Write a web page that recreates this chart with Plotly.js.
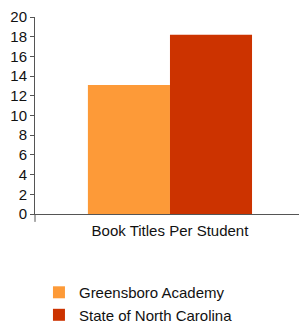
<!DOCTYPE html>
<html>
<head>
<meta charset="utf-8">
<script src="https://cdn.plot.ly/plotly-3.0.1.min.js"></script>
<style>html,body{margin:0;padding:0;background:#fff;}#chart{width:299px;height:324px;}</style>
</head>
<body>
<div id="chart"></div>
<script>
var categories = ["Book Titles Per Student"];
var seriesNames = ["Greensboro Academy", "State of North Carolina"];
var greensboro = [13.1];
var northCarolina = [18.2];
var yTicks = [0, 2, 4, 6, 8, 10, 12, 14, 16, 18, 20];

var font = {family: "Liberation Sans, Arial, sans-serif", size: 15, color: "#111"};
var traces = [
  {type: "bar", name: seriesNames[0], x: categories, y: greensboro, marker: {color: "#FD9A38"}},
  {type: "bar", name: seriesNames[1], x: categories, y: northCarolina, marker: {color: "#CC3300"}}
];
var layout = {
  width: 299, height: 324,
  margin: {l: 35, r: 0, t: 17, b: 110},
  paper_bgcolor: "#fff", plot_bgcolor: "#fff",
  font: font,
  barmode: "group", bargap: 0.364, bargroupgap: 0,
  showlegend: true,
  hovermode: false,
  xaxis: {
    type: "category", range: [-0.523, 0.5],
    showline: true, linecolor: "#555", linewidth: 1,
    ticks: "", showgrid: false, zeroline: false,
    tickfont: font, ticklabelstandoff: 3, automargin: false
  },
  yaxis: {
    range: [0, 20], tickvals: yTicks,
    showline: true, linecolor: "#555", linewidth: 1,
    ticks: "outside", ticklen: 4, tickcolor: "#555",
    showgrid: false, zeroline: false,
    tickfont: font, automargin: false
  },
  shapes: [{type: "line", xref: "paper", yref: "paper", x0: 0, x1: 0, y0: 0, y1: -0.04,
            line: {color: "#555", width: 1}}],
  legend: {
    orientation: "v", xref: "paper", yref: "container",
    x: 0.015, xanchor: "left", y: 0.148, yanchor: "top",
    font: font, traceorder: "normal", itemwidth: 30
  }
};
Plotly.newPlot("chart", traces, layout, {displayModeBar: false, staticPlot: true});
</script>
</body>
</html>
